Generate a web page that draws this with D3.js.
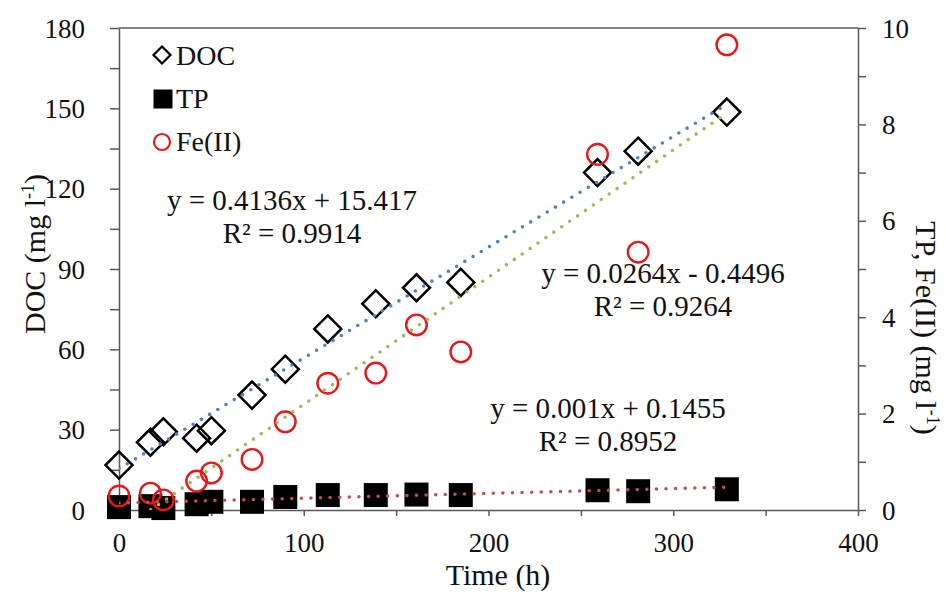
<!DOCTYPE html>
<html><head><meta charset="utf-8">
<script src="https://cdn.jsdelivr.net/npm/d3@7/dist/d3.min.js"></script>
<style>body{margin:0;background:#fff}svg{display:block}text{font-family:"Liberation Serif","Times New Roman",serif;fill:#111}</style>
</head><body><div id="c"></div>
<script>
const time = [0, 17, 24, 42, 50, 72, 90, 113, 139, 161, 185, 259, 281, 329];
const doc  = [16.8, 25.3, 29.2, 26.8, 29.6, 42.9, 52.6, 67.6, 77, 83, 85, 126, 134, 148.6];
const tp   = [0.06, 0.08, 0.04, 0.12, 0.17, 0.17, 0.27, 0.31, 0.31, 0.32, 0.31, 0.41, 0.39, 0.43];
const fe   = [0.29, 0.35, 0.21, 0.6, 0.77, 1.05, 1.83, 2.63, 2.84, 3.84, 3.28, 7.38, 5.35, 9.65];
const xTicks = [0, 50, 100, 150, 200, 250, 300, 350, 400];
const yLTicks = [0, 15, 30, 45, 60, 75, 90, 105, 120, 135, 150, 165, 180];
const yRTicks = [0, 1, 2, 3, 4, 5, 6, 7, 8, 9, 10];
const fitDOC = {slope: 0.4136, intercept: 15.417, r2: 0.9914};
const fitFe  = {slope: 0.0264, intercept: -0.4496, r2: 0.9264};
const fitTP  = {slope: 0.001, intercept: 0.1455, r2: 0.8952};
const legendNames = ["DOC", "TP", "Fe(II)"];

const W = 946, H = 592;
const L = 119, R = 858, T = 28, B = 510;
const svg = d3.select("#c").append("svg").attr("width", W).attr("height", H);
const x = d3.scaleLinear().domain([0, 400]).range([L, R]);
const yL = d3.scaleLinear().domain([0, 180]).range([B, T]);
const yR = d3.scaleLinear().domain([0, 10]).range([B, T]);
const axisCol = "#595959";

svg.append("defs").append("clipPath").attr("id", "clip")
  .append("rect").attr("x", L).attr("y", T).attr("width", R - L).attr("height", B - T);

svg.append("line").attr("x1", L).attr("x2", R).attr("y1", T).attr("y2", T).attr("stroke", axisCol).attr("stroke-width", 1.5);

function styleAxis(g) {
  g.select(".domain").attr("stroke", axisCol).attr("stroke-width", 1.5);
  g.selectAll(".tick line").attr("stroke", axisCol).attr("stroke-width", 1.5);
  g.selectAll("text").attr("font-size", 27).attr("fill", "#111")
    .attr("font-family", '"Liberation Serif", serif');
}
const gL = svg.append("g").attr("transform", `translate(${L},0)`)
  .call(d3.axisLeft(yL).tickValues(yLTicks).tickSizeInner(9).tickSizeOuter(0).tickPadding(25)
    .tickFormat(d => d % 30 === 0 ? d : ""));
styleAxis(gL); gL.selectAll("text").attr("dy", "0.34em");
const gR = svg.append("g").attr("transform", `translate(${R},0)`)
  .call(d3.axisRight(yR).tickValues(yRTicks).tickSizeInner(8).tickSizeOuter(0).tickPadding(16)
    .tickFormat(d => d % 2 === 0 ? d : ""));
styleAxis(gR); gR.selectAll("text").attr("dy", "0.34em");
const gB = svg.append("g").attr("transform", `translate(0,${B})`)
  .call(d3.axisBottom(x).tickValues(xTicks).tickSizeInner(6).tickSizeOuter(0)
    .tickFormat(d => d % 100 === 0 ? d : ""));
styleAxis(gB); gB.selectAll("text").attr("y", 42).attr("dy", 0);

svg.append("text").attr("x", 498).attr("y", 585).attr("text-anchor", "middle").attr("font-size", 30).text("Time (h)");
const lt = svg.append("text").attr("transform", "translate(45,254) rotate(-90)").attr("text-anchor", "middle").attr("font-size", 30);
lt.append("tspan").text("DOC (mg l");
lt.append("tspan").attr("font-size", 18).attr("dy", -11).text("-1");
lt.append("tspan").attr("dy", 11).text(")");
const rt = svg.append("text").attr("transform", "translate(916,328) rotate(90)").attr("text-anchor", "middle").attr("font-size", 30);
rt.append("tspan").text("TP, Fe(II) (mg l");
rt.append("tspan").attr("font-size", 18).attr("dy", -11).text("-1");
rt.append("tspan").attr("dy", 11).text(")");

const idx = d3.range(time.length);
const diamond = (cx, cy, h) => `M${cx},${cy - h}L${cx + h},${cy}L${cx},${cy + h}L${cx - h},${cy}Z`;

svg.append("g").selectAll("path").data(idx).join("path")
  .attr("d", i => diamond(x(time[i]), yL(doc[i]), 13.5))
  .attr("fill", "none").attr("stroke", "#000").attr("stroke-width", 2.5);
svg.append("g").selectAll("rect").data(idx).join("rect")
  .attr("x", i => x(time[i]) - 12).attr("y", i => yR(tp[i]) - 12)
  .attr("width", 24).attr("height", 24).attr("fill", "#000");
svg.append("g").selectAll("circle").data(idx).join("circle")
  .attr("cx", i => x(time[i])).attr("cy", i => yR(fe[i])).attr("r", 10.3)
  .attr("fill", "none").attr("stroke", "#e3191c").attr("stroke-width", 2.4);

const t0 = d3.min(time), t1 = d3.max(time);
function trend(fit, yScale, color) {
  svg.append("line").attr("clip-path", "url(#clip)")
    .attr("x1", x(t0)).attr("y1", yScale(fit.slope * t0 + fit.intercept))
    .attr("x2", x(t1)).attr("y2", yScale(fit.slope * t1 + fit.intercept))
    .attr("stroke", color).attr("stroke-width", 3.6).attr("stroke-linecap", "round")
    .attr("stroke-dasharray", "0 9.6");
}
trend(fitDOC, yL, "#4f81bd");
trend(fitFe, yR, "#9bbb59");
trend(fitTP, yR, "#c0504d");

function eq(cx, y, fit) {
  const a = fit.slope, b = fit.intercept;
  const s1 = `y = ${a}x ${b < 0 ? "- " + (-b) : "+ " + b}`;
  svg.append("text").attr("x", cx).attr("y", y).attr("text-anchor", "middle").attr("font-size", 29).text(s1);
  svg.append("text").attr("x", cx).attr("y", y + 33).attr("text-anchor", "middle").attr("font-size", 29).text(`R² = ${fit.r2}`);
}
eq(292, 210, fitDOC);
eq(663, 283, fitFe);
eq(608, 418, fitTP);

const lg = svg.append("g");
lg.append("path").attr("d", diamond(162, 55, 8.5)).attr("fill", "none").attr("stroke", "#000").attr("stroke-width", 2.2);
lg.append("rect").attr("x", 153.5).attr("y", 89.5).attr("width", 19).attr("height", 19).attr("fill", "#000");
lg.append("circle").attr("cx", 162).attr("cy", 142).attr("r", 8).attr("fill", "none").attr("stroke", "#e3191c").attr("stroke-width", 2.2);
legendNames.forEach((n, i) => {
  lg.append("text").attr("x", 176).attr("y", 65 + i * 43).attr("font-size", 28).text(n);
});
</script></body></html>
